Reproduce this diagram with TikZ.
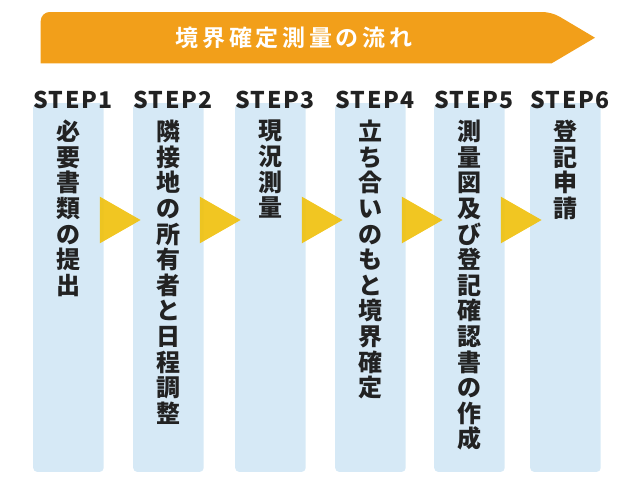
\documentclass[tikz,border=0pt]{standalone}
\usepackage{fontspec}
\usetikzlibrary{calc}
\newfontfamily\jpbold{Noto Sans CJK JP Black}
\newfontfamily\jpstep{Noto Sans CJK JP Black}[LetterSpace=7]
\newfontfamily\jptitle{Noto Sans CJK JP Bold}[LetterSpace=16]
\definecolor{bannerorange}{HTML}{F29F1A}
\definecolor{colblue}{HTML}{D6E9F6}
\definecolor{triyellow}{HTML}{F0C10F}
\definecolor{inkdark}{HTML}{222222}
\tikzset{
  stepcol/.style={fill=colblue, rounded corners=4pt, inner sep=0pt,
    minimum width=70.5pt, minimum height=368.7pt, anchor=north west},
  steplabel/.style={anchor=base west, inner sep=0pt, text=inkdark,
    font=\jpstep\fontsize{23}{23}\selectfont},
  tatetext/.style={anchor=north, inner sep=0pt, align=center, text=inkdark,
    font=\jpbold\fontsize{24}{25.6}\selectfont},
  tri/.style={fill=triyellow, fill opacity=0.92}
}
\begin{document}
\begin{tikzpicture}[x=1pt, y=-1pt]
\useasboundingbox (0,0) rectangle (640,480);
% banner
\fill[bannerorange] (595,37.7) -- (551.7,63.3) -- (40.7,63.3) [rounded corners=9pt]
  -- (40.7,12) -- (551.7,12) [sharp corners] -- cycle;
\node[inner sep=0pt, text=white, font=\jptitle\fontsize{23}{23}\selectfont] (title) at (294,37.7) {境界確定測量の流れ};
% columns
\node[stepcol] (s1) at (33,103) {};
\node[stepcol] (s2) at (133,103) {};
\node[stepcol] (s3) at (235,103) {};
\node[stepcol] (s4) at (335,103) {};
\node[stepcol] (s5) at (434,103) {};
\node[stepcol] (s6) at (530,103) {};
% step labels
\foreach \i in {1,...,6}
  \node[steplabel] (l\i) at ([yshift=-5.7pt]s\i.north west) {STEP\i};
% texts
\node[tatetext] (t1) at ([yshift=-17pt]s1.north) {必\\要\\書\\類\\の\\提\\出};
\node[tatetext] (t2) at ([yshift=-17pt]s2.north) {隣\\接\\地\\の\\所\\有\\者\\と\\日\\程\\調\\整};
\node[tatetext] (t3) at ([yshift=-17pt]s3.north) {現\\況\\測\\量};
\node[tatetext] (t4) at ([yshift=-17pt]s4.north) {立\\ち\\合\\い\\の\\も\\と\\境\\界\\確\\定};
\node[tatetext] (t5) at ([yshift=-17pt]s5.north) {測\\量\\図\\及\\び\\登\\記\\確\\認\\書\\の\\作\\成};
\node[tatetext] (t6) at ([yshift=-17pt]s6.north) {登\\記\\申\\請};
% arrows
\foreach \i in {1,...,5}
  \fill[tri] ([shift={(-4,93.7)}]s\i.north east) -- ++(40.7,23.3) -- ++(-40.7,23.3) -- cycle;
\end{tikzpicture}
\end{document}
